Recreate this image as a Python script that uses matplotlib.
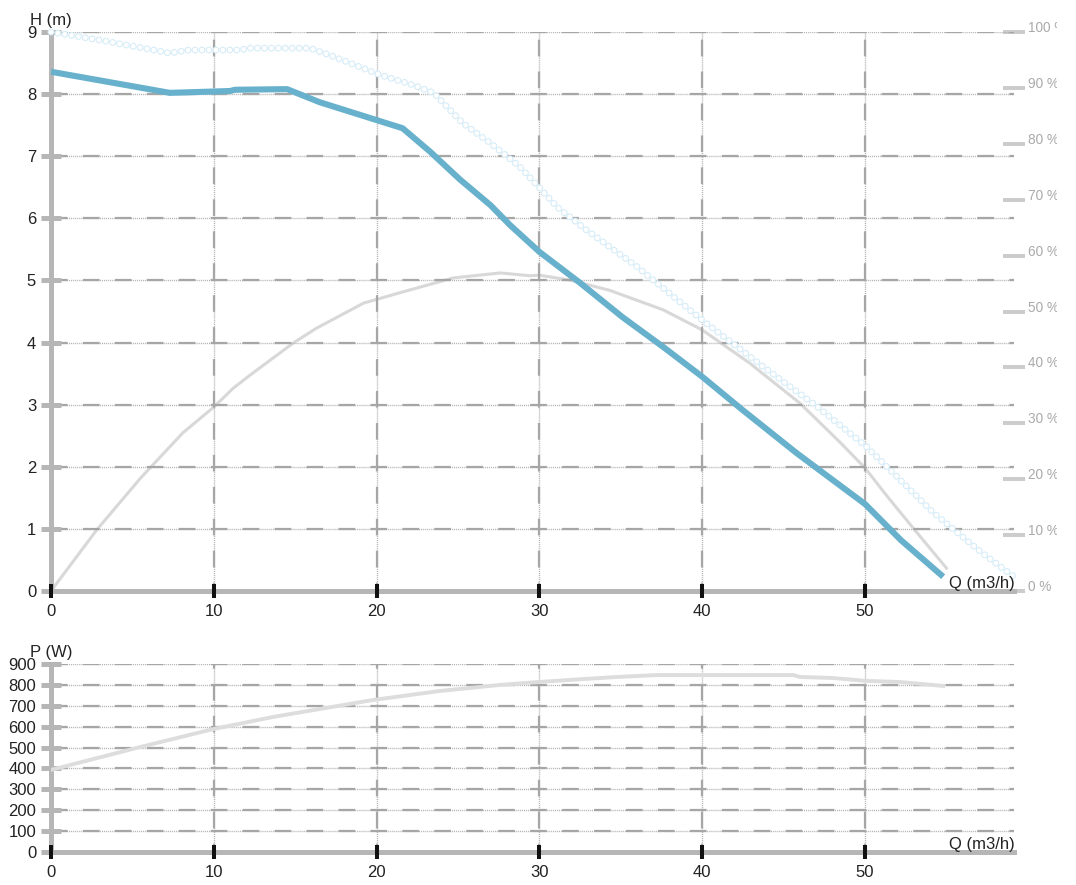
import numpy as np
import matplotlib.pyplot as plt
import matplotlib.transforms as mtransforms

plt.rcParams['font.family'] = ['Liberation Sans', 'DejaVu Sans']
plt.rcParams['lines.scale_dashes'] = False

# pump curve, head H (m) against flow Q (m3/h)
q_head = [0, 7.3, 11.0, 11.3, 14.5, 16.5, 21.6, 23.3, 25.1, 27.0, 28.2, 30.0,
          32.5, 35.1, 37.6, 40.0, 42.5, 45.8, 48.0, 50.0, 52.2, 54.8]
head = [8.36, 8.02, 8.05, 8.07, 8.08, 7.87, 7.45, 7.07, 6.63, 6.21, 5.89, 5.46,
        4.96, 4.41, 3.93, 3.45, 2.91, 2.22, 1.79, 1.40, 0.82, 0.23]

# max curve (ring markers)
q_max = [0, 3.0, 7.3, 8.5, 11.6, 12.2, 15.9, 17.1, 20.2, 22.2, 23.5, 25.3, 27.0,
         28.8, 31.1, 32.9, 36.0, 40.0, 44.0, 47.1, 50.1, 54.2, 57.2, 59.4]
head_max = [9.0, 8.87, 8.66, 8.71, 8.71, 8.74, 8.74, 8.63, 8.31, 8.15, 8.02, 7.53, 7.21,
            6.83, 6.18, 5.81, 5.22, 4.36, 3.56, 2.96, 2.32, 1.26, 0.61, 0.18]

# efficiency (%)
q_eff = [0, 2.8, 5.5, 8.1, 10.0, 11.2, 12.4, 14.9, 16.3, 19.2, 21.6, 24.7, 27.6,
         29.4, 30.0, 31.9, 34.3, 37.6, 40.0, 42.9, 46.0, 48.5, 50.0, 51.4, 53.2, 55.0]
eff = [0, 10.9, 20.2, 28.3, 32.9, 36.3, 39.0, 44.4, 47.0, 51.5, 53.5, 56.0, 56.9,
       56.4, 56.5, 55.6, 53.8, 50.3, 46.7, 40.8, 33.6, 26.5, 22.0, 16.8, 10.4, 4.1]

# power P (W)
q_pow = [0, 5.5, 10.0, 13.6, 19.8, 23.9, 27.6, 30.0, 32.7, 34.8, 37.2, 39.9,
         45.6, 46.0, 48.0, 50.1, 52.1, 54.8]
power = [393, 503, 589, 646, 728, 771, 800, 814, 828, 838, 847, 847,
         847, 838, 833, 819, 814, 795]

q_ticks = [0, 10, 20, 30, 40, 50]
h_ticks = list(range(0, 10))
eff_ticks = list(range(0, 101, 10))
p_ticks = list(range(0, 901, 100))

W, H = 1076, 885
fig = plt.figure(figsize=(W / 100, H / 100), dpi=100)

def px_axes(left, right, top, bottom):
    return fig.add_axes([left / W, 1 - bottom / H, (right - left) / W, (bottom - top) / H])

GRID = '#a6a6a6'
SPINE = '#b6b6b6'
TXT = '#222222'
FS = 12


def style(ax, yticks, ylim):
    ax.set_xlim(0, 59.15)
    ax.set_ylim(*ylim)
    ax.set_xticks(q_ticks)
    ax.set_yticks(yticks)
    for s in ['top', 'right']:
        ax.spines[s].set_visible(False)
    for s in ['left', 'bottom']:
        ax.spines[s].set_color(SPINE)
        ax.spines[s].set_linewidth(3.6)
        ax.spines[s].set_zorder(1.0)
    ax.yaxis.set_zorder(1.4)
    ax.xaxis.set_zorder(1.6)
    ax.tick_params(axis='y', direction='inout', length=15, width=3.6, color=SPINE,
                   pad=3.2, labelsize=FS, labelcolor=TXT)
    ax.tick_params(axis='x', direction='inout', length=9.5, width=2.9, color='#111111',
                   pad=4.5, labelsize=FS, labelcolor=TXT)
    for y in yticks[1:]:
        ax.axhline(y, color='#b0b0b0', lw=1.0, ls=(0, (0.7, 0.7)), zorder=0.8)
        ax.axhline(y, color=GRID, lw=1.6, ls=(0, (12, 11)), zorder=0.9)
    for x in q_ticks[1:]:
        ax.axvline(x, color='#b0b0b0', lw=1.0, ls=(0, (0.7, 0.7)), zorder=0.8)
        ax.axvline(x, color=GRID, lw=1.6, ls=(6, (12, 11)), zorder=0.9)
    offset = mtransforms.offset_copy(ax.transAxes, fig=fig, x=1, y=3, units='dots')
    ax.text(1.0, 0, 'Q (m3/h)', transform=offset, ha='right', va='baseline',
            fontsize=FS, color=TXT)


# ---- top chart: head + efficiency
ax = px_axes(51, 1014, 32, 591)
style(ax, h_ticks, (0, 9))

ax2 = ax.twinx()
ax.set_zorder(2)
ax2.set_zorder(1)
ax.patch.set_visible(False)

# efficiency on the right-hand scale (drawn behind the head axes)
ax2.plot(q_eff, eff, color='#d8d8d8', lw=2.2, zorder=2)
ax2.set_ylim(0, 100)
ax2.set_yticks(eff_ticks)
ax2.set_yticklabels([f'{v} %' for v in eff_ticks])
for s in ax2.spines.values():
    s.set_visible(False)
ax2.tick_params(axis='y', direction='inout', length=16, width=2.9, color='#cccccc',
                labelcolor='#aaaaaa', labelsize=9.8, pad=2)
clip = mtransforms.TransformedBbox(mtransforms.Bbox([[0, 0], [1057 / W, 1]]), fig.transFigure)
for lab in ax2.get_yticklabels():
    lab.set_va('baseline')
    lab.set_clip_box(clip)
    lab.set_clip_on(True)

ax.plot(q_max, head_max, color='#d6ecf7', lw=5.0, ls=(0, (0.01, 5.0)),
        dash_capstyle='round', zorder=2, clip_on=False)
ax.plot(q_max, head_max, color='white', lw=3.4, ls=(0, (0.01, 5.0)),
        dash_capstyle='round', zorder=2.1, clip_on=False)
ax.plot(q_head, head, color='#68b1cd', lw=4.4, solid_capstyle='butt', zorder=3)

fig.text(30 / W, 1 - 25 / H, 'H (m)', fontsize=FS, color=TXT, va='baseline')

# ---- bottom chart: power
axp = px_axes(51, 1014, 664, 852)
style(axp, p_ticks, (0, 900))
axp.plot(q_pow, power, color='#dddddd', lw=2.8, zorder=2)
fig.text(30 / W, 1 - 657 / H, 'P (W)', fontsize=FS, color=TXT, va='baseline')

fig.savefig('out.png', dpi=100)
